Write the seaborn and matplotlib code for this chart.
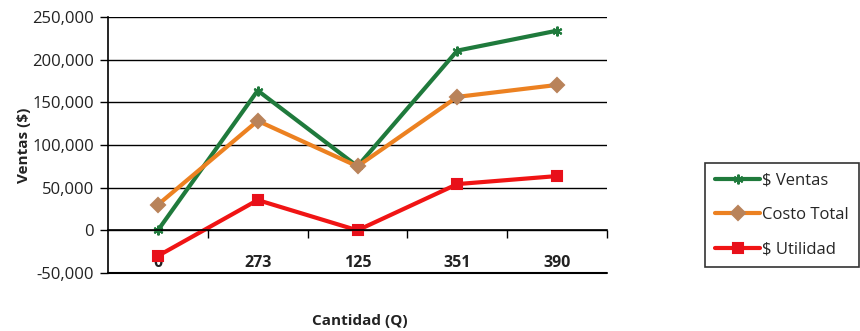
import seaborn as sns
import matplotlib.pyplot as plt
from matplotlib.ticker import FuncFormatter, FixedLocator

cantidad = ["0", "273", "125", "351", "390"]
ventas = [0, 163800, 75000, 210600, 234000]
costo_total = [30000, 128300, 75000, 156400, 170400]
utilidad = [-30000, 35500, 0, 54200, 63600]

sns.set_theme(style="white")
plt.rcParams["font.family"] = ["Open Sans", "DejaVu Sans"]

fig = plt.figure(figsize=(8.6, 3.31), dpi=100)
ax = fig.add_axes([108 / 860, 1 - 273 / 331, 499 / 860, 256 / 331])

# (etiqueta, valores, color linea, marcador, color marcador)
series = [
    ("$ Ventas", ventas, "#1f7a3c", (6, 2, 0), "#1f7a3c"),
    ("Costo Total", costo_total, "#ec8121", "D", "#b9835a"),
    ("$ Utilidad", utilidad, "#f01414", "s", "#e8101a"),
]
for nombre, vals, col, mk, mcol in series:
    sns.lineplot(x=cantidad, y=vals, sort=False, color=col, linewidth=3,
                 marker=mk, markersize=7, markerfacecolor=mcol,
                 markeredgecolor=mcol, markeredgewidth=1.5, label=nombre, ax=ax)

ax.set_ylim(-50000, 250000)
ax.set_xlim(-0.5, 4.5)
ax.set_yticks(range(-50000, 250001, 50000))
ax.yaxis.set_major_formatter(FuncFormatter(lambda v, p: f"{int(v):,}"))
ax.grid(axis="y", color="black", linewidth=1)
ax.axhline(-50000, color="black", linewidth=1.5, clip_on=False, zorder=0.5)
ax.set_axisbelow(True)

for s in ["top", "right"]:
    ax.spines[s].set_visible(False)
ax.spines["left"].set_color("black")
ax.spines["left"].set_linewidth(1.2)
ax.spines["bottom"].set_position(("data", 0))
ax.spines["bottom"].set_color("black")
ax.spines["bottom"].set_linewidth(1.2)

ax.tick_params(axis="y", left=True, length=6, width=1, color="black",
               labelsize=12, labelcolor="#222222", pad=4)
ax.xaxis.set_minor_locator(FixedLocator([0.5, 1.5, 2.5, 3.5, 4.5]))
ax.tick_params(axis="x", which="major", bottom=False, labelsize=11.5,
               labelcolor="#222222", pad=12)
ax.tick_params(axis="x", which="minor", bottom=True, length=6, width=1,
               color="black")
for t in ax.get_xticklabels():
    t.set_fontweight("bold")

ax.set_xlabel("")
ax.set_ylabel("Ventas ($)", fontsize=11, fontweight="bold", color="#222222")
ax.yaxis.set_label_coords(-0.155, 0.5)
fig.text(360 / 860, 1 - 321 / 331, "Cantidad (Q)", ha="center", va="center",
         fontsize=11, fontweight="bold", color="#222222")

leg = ax.legend(loc="center left", bbox_to_anchor=(705 / 860, 1 - 215 / 331),
                bbox_transform=fig.transFigure, frameon=True, fancybox=False,
                edgecolor="black", fontsize=12, handlelength=2.7,
                labelspacing=1.1, borderpad=0.6, handletextpad=0.15,
                borderaxespad=0)
leg.get_frame().set_linewidth(1.2)

fig.savefig("out.png", dpi=100)
